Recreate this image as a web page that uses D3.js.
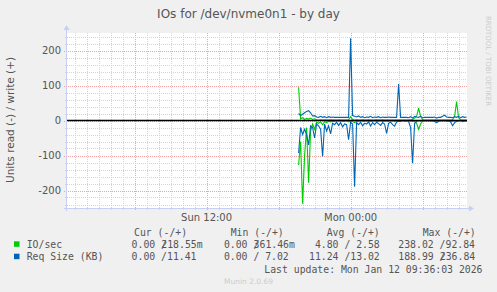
<!DOCTYPE html>
<html>
<head>
<meta charset="utf-8">
<script src="https://cdn.jsdelivr.net/npm/d3@7"></script>
<style>
body { margin: 0; background: #f0f0f0; }
svg { display: block; }
</style>
</head>
<body>
<div id="chart"></div>
<script>
// Chart box (munin 400x175 graph area)
var chartWidth = 497;
var chartHeight = 292;
var plotLeft = 67, plotRight = 467, plotTop = 33, plotBottom = 208;

// Time span of the "by day" graph
var startTime = new Date(2026, 0, 11, 0, 22);
var endTime = new Date(2026, 0, 12, 9, 42);
var dataStart = new Date(2026, 0, 11, 19, 40);
var stepMinutes = 10;

// IO/sec, read (drawn below zero) and write (above zero)
var ioRead = [127, 60, 238, 100, 20, 178, 30, 10, 25, 5, 8, 4, 12, 3, 6, 2, 4, 2, 3, 1,
    2, 1, 3, 2, 1, 4, 2, 3, 6, 2, 3, 1, 2, 3, 1, 2, 3, 2, 1, 3,
    2, 1, 3, 2, 2, 1, 2, 1, 3, 1, 0, 1, 0, 1, 0, 1, 2, 3, 2, 8,
    25, 10, 2, 1, 0, 1, 0, 1, 2, 5, 2, 1, 0, 1, 0, 1, 2, 3, 1, 3,
    1, 0, 1, 0, 1];
var ioWrite = [95, 5, 8, 3, 6, 4, 7, 3, 5, 2, 1, 2, 1, 2, 1, 1, 2, 1, 1, 1,
    1, 1, 1, 1, 1, 2, 11, 3, 1, 2, 1, 1, 2, 1, 1, 2, 1, 1, 1, 2,
    1, 1, 2, 1, 1, 1, 1, 1, 1, 1, 1, 1, 1, 1, 1, 1, 2, 3, 7, 12,
    35, 12, 2, 1, 1, 1, 1, 1, 1, 1, 1, 1, 1, 1, 1, 1, 1, 2, 12, 54,
    8, 2, 1, 1, 1];

// Req Size (KB), read (below zero) and write (above zero)
var reqRead = [93, 20, 40, 25, 40, 70, 15, 20, 50, 10, 15, 25, 103, 10, 30, 15, 38, 8, 12, 5,
    14, 6, 18, 10, 12, 55, 5, 10, 189, 6, 12, 5, 15, 8, 10, 4, 16, 6, 12, 5,
    9, 14, 6, 10, 37, 8, 5, 12, 16, 4, 2, 3, 0, 2, 1, 3, 20, 122, 8, 3,
    0, 2, 1, 0, 1, 0, 2, 0, 3, 6, 2, 0, 1, 0, 2, 1, 4, 15, 6, 2,
    1, 0, 3, 1, 2];
var reqWrite = [20, 14, 18, 22, 26, 28, 22, 13, 14, 10, 9, 12, 9, 11, 8, 11, 9, 10, 9, 9,
    9, 9, 9, 9, 9, 9, 235, 14, 12, 10, 13, 9, 11, 8, 10, 9, 12, 8, 10, 9,
    11, 8, 10, 9, 9, 10, 9, 9, 9, 9, 104, 9, 9, 9, 9, 8, 11, 7, 12, 10,
    9, 12, 8, 9, 9, 9, 9, 9, 10, 7, 9, 9, 12, 15, 10, 9, 9, 8, 11, 9,
    12, 8, 11, 9, 10];

// Axis labels
var yTicks = [-200, -100, 0, 100, 200];
var xLabelTimes = [new Date(2026, 0, 11, 12, 0), new Date(2026, 0, 12, 0, 0)];

// Legend table
var legendHeaders = ["Cur (-/+)", "Min (-/+)", "Avg (-/+)", "Max (-/+)"];
var legendNames = ["IO/sec", "Req Size (KB)"];
var legendColors = ["#00cc00", "#0066b3"];
var legendRead = [["  0.00", "  0.00", "  4.80", "238.02"], ["  0.00", "  0.00", " 11.24", "188.99"]];
var legendWrite = [["218.55m", "361.46m", "  2.58", " 92.84"], [" 11.41", "  7.02", " 13.02", "236.84"]];

var svg = d3.select("#chart")
    .append("svg")
    .attr("width", chartWidth)
    .attr("height", chartHeight);

var xScale = d3.scaleTime().domain([startTime, endTime]).range([plotLeft, plotRight]);
var yScale = d3.scaleLinear().domain([-250, 250]).range([plotBottom, plotTop]);

// White plot background
svg.append("rect")
    .attr("x", plotLeft).attr("y", plotTop)
    .attr("width", plotRight - plotLeft).attr("height", plotBottom - plotTop)
    .attr("fill", "#ffffff");

var grid = svg.append("g").attr("shape-rendering", "crispEdges");

// Vertical grid: every hour, red every 6 hours
d3.timeHour.every(1).range(startTime, endTime).forEach(function (t) {
    var major = t.getHours() % 6 === 0;
    var x = Math.round(xScale(t)) + 0.5;
    grid.append("line")
        .attr("x1", x).attr("x2", x)
        .attr("y1", plotTop).attr("y2", plotBottom + (major ? 3 : 2))
        .attr("stroke", major ? "#f2a0a0" : "#d4d4d4")
        .attr("stroke-dasharray", "1,1");
});

// Horizontal grid: every 20, red every 100
d3.range(-240, 241, 20).forEach(function (v) {
    var major = v % 100 === 0;
    var y = Math.round(yScale(v)) + 0.5;
    grid.append("line")
        .attr("x1", plotLeft - (major ? 3 : 2)).attr("x2", plotRight)
        .attr("y1", y).attr("y2", y)
        .attr("stroke", major ? "#f2a0a0" : "#d4d4d4")
        .attr("stroke-dasharray", "1,1");
});

// Build series
function toPoints(values, sign) {
    return values.map(function (v, i) {
        return { t: d3.timeMinute.offset(dataStart, i * stepMinutes), v: sign * v };
    });
}

var lineGen = d3.line()
    .x(function (d) { return xScale(d.t); })
    .y(function (d) { return yScale(d.v); });

var series = [
    { pts: toPoints(ioRead, -1), color: legendColors[0] },
    { pts: toPoints(ioWrite, 1), color: legendColors[0] },
    { pts: toPoints(reqRead, -1), color: legendColors[1] },
    { pts: toPoints(reqWrite, 1), color: legendColors[1] }
];

series.forEach(function (s) {
    svg.append("path")
        .attr("d", lineGen(s.pts))
        .attr("fill", "none")
        .attr("stroke", s.color)
        .attr("stroke-width", 1.1);
});

// Zero rule
svg.append("line")
    .attr("x1", plotLeft).attr("x2", plotRight)
    .attr("y1", yScale(0)).attr("y2", yScale(0))
    .attr("stroke", "#000000")
    .attr("stroke-width", 1.6);

// Axes with arrows
var axisColor = "#c8cff4";
svg.append("line")
    .attr("x1", plotLeft - 3).attr("x2", plotRight + 3)
    .attr("y1", plotBottom + 0.5).attr("y2", plotBottom + 0.5)
    .attr("stroke", axisColor).attr("shape-rendering", "crispEdges");
svg.append("line")
    .attr("x1", plotLeft - 0.5).attr("x2", plotLeft - 0.5)
    .attr("y1", plotBottom + 3).attr("y2", plotTop - 4)
    .attr("stroke", axisColor).attr("shape-rendering", "crispEdges");
svg.append("path")
    .attr("d", "M" + (plotRight + 2) + "," + (plotBottom - 2.5) + "L" + (plotRight + 7) + "," + (plotBottom + 0.5) + "L" + (plotRight + 2) + "," + (plotBottom + 3.5) + "Z")
    .attr("fill", axisColor);
svg.append("path")
    .attr("d", "M" + (plotLeft - 3.5) + "," + (plotTop - 3) + "L" + (plotLeft - 0.5) + "," + (plotTop - 8) + "L" + (plotLeft + 2.5) + "," + (plotTop - 3) + "Z")
    .attr("fill", axisColor);

// Title
svg.append("text")
    .attr("x", 248.5).attr("y", 17.5)
    .attr("text-anchor", "middle")
    .attr("font-family", "DejaVu Sans")
    .attr("font-size", "12px")
    .attr("fill", "#555555")
    .text("IOs for /dev/nvme0n1 - by day");

// Y ticks
svg.selectAll("text.ytick")
    .data(yTicks)
    .enter()
    .append("text")
    .attr("class", "ytick")
    .attr("x", 61)
    .attr("y", function (d) { return yScale(d) + 3.5; })
    .attr("text-anchor", "end")
    .attr("font-family", "DejaVu Sans")
    .attr("font-size", "10px")
    .attr("fill", "#555555")
    .text(function (d) { return d; });

// X labels
var xFormat = d3.timeFormat("%a %H:%M");
svg.selectAll("text.xtick")
    .data(xLabelTimes)
    .enter()
    .append("text")
    .attr("class", "xtick")
    .attr("x", function (d) { return xScale(d); })
    .attr("y", 221)
    .attr("text-anchor", "middle")
    .attr("font-family", "DejaVu Sans")
    .attr("font-size", "10px")
    .attr("fill", "#555555")
    .text(function (d) { return xFormat(d); });

// Y axis label
svg.append("text")
    .attr("transform", "translate(13.5,120) rotate(-90)")
    .attr("text-anchor", "middle")
    .attr("font-family", "DejaVu Sans")
    .attr("font-size", "10.5px")
    .attr("fill", "#555555")
    .text("Units read (-) / write (+)");

// Side credit
svg.append("text")
    .attr("transform", "translate(486,61) rotate(90)")
    .attr("text-anchor", "middle")
    .attr("font-family", "DejaVu Sans")
    .attr("font-size", "7px")
    .attr("fill", "#cccccc")
    .text("RRDTOOL / TOBI OETIKER");

// Legend
var mono = "DejaVu Sans Mono";
var monoSize = 9.8;
var cw = 5.93;
var headerX = [134, 230.7, 326.7, 422.7];
var colX = [119.8, 212.1, 303.1, 398.3];
var rowY = [247.8, 260.2];

svg.selectAll("text.header")
    .data(legendHeaders)
    .enter()
    .append("text")
    .attr("class", "header")
    .attr("x", function (d, i) { return headerX[i]; })
    .attr("y", 236.2)
    .attr("font-family", mono)
    .attr("font-size", monoSize + "px")
    .attr("fill", "#555555")
    .text(function (d) { return d; });

legendNames.forEach(function (name, r) {
    svg.append("rect")
        .attr("x", 14).attr("y", rowY[r] - 6.5)
        .attr("width", 5.5).attr("height", 5.5)
        .attr("fill", legendColors[r]);
    svg.append("text")
        .attr("x", 26.7).attr("y", rowY[r])
        .attr("font-family", mono)
        .attr("font-size", monoSize + "px")
        .attr("fill", "#555555")
        .text(name);
    // rrdtool glues the write value onto the "/" position
    legendRead[r].forEach(function (val, c) {
        var w = legendWrite[r][c];
        var cell = svg.append("text")
            .attr("y", rowY[r])
            .attr("font-family", mono)
            .attr("font-size", monoSize + "px")
            .attr("fill", "#555555")
            .style("white-space", "pre");
        if (w.charAt(0) === " ") {
            cell.attr("x", colX[c]).text(val + " /" + w.slice(1));
        } else {
            cell.append("tspan").attr("x", colX[c]).text(val + " /");
            cell.append("tspan").attr("x", colX[c] + 7 * cw).text(w);
        }
    });
});

svg.append("text")
    .attr("x", 482.5).attr("y", 272.5)
    .attr("text-anchor", "end")
    .attr("font-family", mono)
    .attr("font-size", monoSize + "px")
    .attr("fill", "#555555")
    .text("Last update: Mon Jan 12 09:36:03 2026");

svg.append("text")
    .attr("x", 248.5).attr("y", 283.5)
    .attr("text-anchor", "middle")
    .attr("font-family", "DejaVu Sans")
    .attr("font-size", "7.5px")
    .attr("fill", "#cccccc")
    .text("Munin 2.0.69");
</script>
</body>
</html>
